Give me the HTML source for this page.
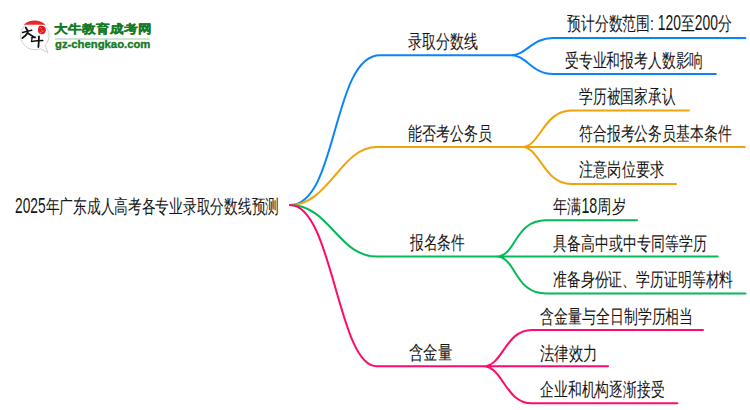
<!DOCTYPE html>
<html><head><meta charset="utf-8"><style>
html,body{margin:0;padding:0;background:#fff;width:750px;height:410px;overflow:hidden;position:relative}
.t{position:absolute;font-family:"Liberation Sans",sans-serif;font-size:19px;line-height:20px;white-space:nowrap;color:#151515;transform-origin:0 0}
svg{position:absolute;left:0;top:0}
.d{display:inline-block;transform-origin:0 13.8px;transform:scaleY(1.2)}
.mm path{fill:none;stroke-width:2;stroke-linecap:round}
.logo-t{position:absolute;font-family:"Liberation Sans",sans-serif;white-space:nowrap;color:#167a26;font-weight:bold;-webkit-text-stroke:0.35px #167a26;transform-origin:0 0}
</style></head><body>
<svg class="mm" width="750" height="410" viewBox="0 0 750 410">
<path d="M290,205 C338,205 332,55.2 380,55.2 L511.4,55.2 M511.4,55.2 C526.40,55.2 532.00,37.9 553.00,37.9 L745.4,37.9 M511.4,55.2 C526.40,55.2 532.00,74.1 553.00,74.1 L715.8,74.1" stroke="#0b84f7"/>
<path d="M290,205 C329,205 340.7,147.0 376.5,147.0 L522.1,147.0 M522.1,147.0 C540.10,147.0 543.30,110.5 571.30,110.5 L689,110.5 M522.1,147.0 C540.10,147.0 543.30,183.9 571.30,183.9 L676,183.9 M522.1,147.0 L744.7,147.0" stroke="#f0a30a"/>
<path d="M290,205 C329.6,205 338.1,256.6 376.8,256.6 L496,256.6 M496,256.6 C517.00,256.6 513.30,220.3 546.30,220.3 L637,220.3 M496,256.6 C517.00,256.6 513.30,293.5 546.30,293.5 L745.5,293.5 M496,256.6 L717.7,256.6" stroke="#05b85a"/>
<path d="M290,205 C332.8,205 337.7,366.3 376.7,366.3 L483.2,366.3 M483.2,366.3 C503.20,366.3 504.90,329.9 531.90,329.9 L703,329.9 M483.2,366.3 C503.20,366.3 504.90,403.3 531.90,403.3 L677.4,403.3 M483.2,366.3 L608,366.3" stroke="#ff0a6a"/>
</svg>
<div class="t" style="left:15.28px;top:197.30px;transform:scaleX(0.7231)"><span class="d">2025</span>年广东成人高考各专业录取分数线预测</div>
<div class="t" style="left:407.76px;top:32.10px;transform:scaleX(0.7387)">录取分数线</div>
<div class="t" style="left:407.77px;top:123.80px;transform:scaleX(0.7321)">能否考公务员</div>
<div class="t" style="left:410.00px;top:233.40px;transform:scaleX(0.7227)">报名条件</div>
<div class="t" style="left:409.24px;top:343.40px;transform:scaleX(0.7593)">含金量</div>
<div class="t" style="left:566.50px;top:13.55px;transform:scaleX(0.7289)">预计分数范围: <span class="d">120</span>至<span class="d">200</span>分</div>
<div class="t" style="left:565.27px;top:50.70px;transform:scaleX(0.7273)">受专业和报考人数影响</div>
<div class="t" style="left:579.07px;top:87.10px;transform:scaleX(0.7267)">学历被国家承认</div>
<div class="t" style="left:578.77px;top:123.80px;transform:scaleX(0.7295)">符合报考公务员基本条件</div>
<div class="t" style="left:578.75px;top:160.30px;transform:scaleX(0.7473)">注意岗位要求</div>
<div class="t" style="left:552.65px;top:197.40px;transform:scaleX(0.7489)">年满<span class="d">18</span>周岁</div>
<div class="t" style="left:552.77px;top:233.50px;transform:scaleX(0.7343)">具备高中或中专同等学历</div>
<div class="t" style="left:552.77px;top:269.60px;transform:scaleX(0.7298)">准备身份证、学历证明等材料</div>
<div class="t" style="left:539.97px;top:307.30px;transform:scaleX(0.7337)">含金量与全日制学历相当</div>
<div class="t" style="left:539.74px;top:343.60px;transform:scaleX(0.7556)">法律效力</div>
<div class="t" style="left:539.77px;top:379.60px;transform:scaleX(0.7296)">企业和机构逐渐接受</div>
<svg style="position:absolute;left:0;top:0" width="60" height="60" viewBox="0 0 60 60">
<path d="M40.5,48.6 A14.2,14.2 0 1 1 45.3,45.2 L47.8,52.6 L40.5,48.6" fill="#fff" stroke="#c8c8c8" stroke-width="0.9"/>

<path d="M23.8,24.8 A16,16 0 0 1 45.4,24.8 Z" fill="#e8262c"/>
<path d="M39.5,25.8 Q44,25 45.6,28 Q46.5,32.5 43.5,34 Q39.5,35 38.2,32 Q37.5,27.5 39.5,25.8 Z" fill="#e3191f"/>
<path d="M40.3,27.5 L42,29 M41.3,30.5 L43.5,31.6 M40,32 L41.5,33" stroke="#f6b0b0" stroke-width="0.7"/>
<g fill="none" stroke="#111" stroke-linecap="round" stroke-linejoin="round">
<path d="M22.6,32.5 Q27,31.3 31.8,30.3" stroke-width="1.5"/>
<path d="M25.8,27.6 Q28,30.2 27.5,33 Q25.6,36 22.5,38" stroke-width="1.9"/>
<path d="M28,33.2 Q31.5,35.5 34.9,37.6" stroke-width="1.7"/>
<path d="M31.4,37.8 L35.4,37.1" stroke-width="1.3"/>
<path d="M32,38.4 L31.5,41.3" stroke-width="1.2"/>
<path d="M31.5,41.4 Q37,40.7 42.8,40.6" stroke-width="1.5"/>
<path d="M39,36.3 Q38.8,42 38.4,47" stroke-width="1.8"/>
</g>
</svg>
<div class="logo-t" style="left:53.8px;top:20.2px;font-size:14px;line-height:20px;transform:scale(1.0,0.886)">大牛教育成考网</div>
<div style="position:absolute;left:55px;top:38px;width:95px;height:1.5px;background:#d3e3d8"></div>
<div class="logo-t" style="left:54.5px;top:34px;font-size:11px;line-height:20px;transform:scaleX(1.027)">gz-chengkao.com</div>

</body></html>
